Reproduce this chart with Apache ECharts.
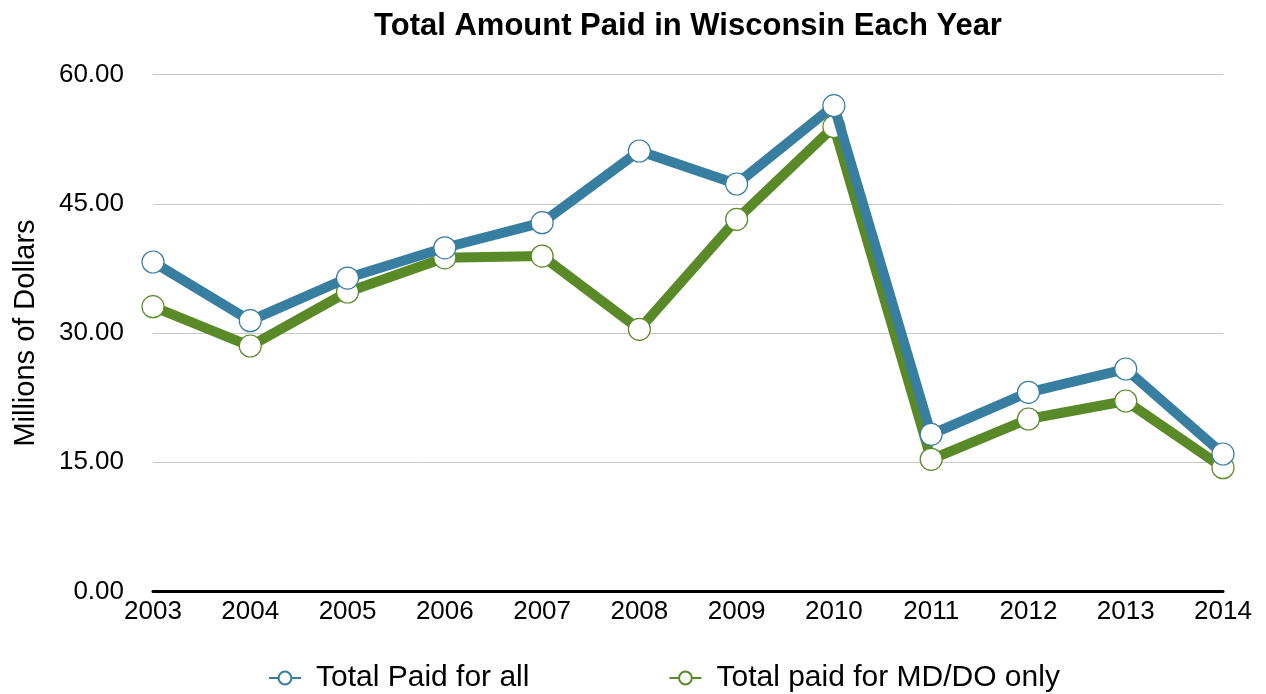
<!DOCTYPE html>
<html>
<head>
<meta charset="utf-8">
<script src="https://cdn.jsdelivr.net/npm/echarts@6/dist/echarts.min.js"></script>
<style>
  html, body { margin: 0; padding: 0; background: #fff; }
  #chart { width: 1266px; height: 694px; }
</style>
</head>
<body>
<div id="chart"></div>
<script>
// years on the x axis
var years = ['2003','2004','2005','2006','2007','2008','2009','2010','2011','2012','2013','2014'];
// millions of dollars
var paidAll  = [38.24, 31.43, 36.38, 39.89, 42.80, 51.12, 47.29, 56.38, 18.24, 23.12, 25.82, 15.96];
var paidMdDo = [33.05, 28.49, 34.76, 38.73, 38.93, 30.43, 43.19, 53.94, 15.34, 20.02, 22.11, 14.37];
var seriesNames = ['Total Paid for all', 'Total paid for MD/DO only'];
var colors = ['#377ea1', '#5a8a28'];

var font = '"Liberation Sans", Arial, sans-serif';

function lineSeries(name, data, color, z) {
	return {
		name: name,
		type: 'line',
		data: data,
		symbol: 'circle',
		symbolSize: 22,
		lineStyle: { color: color, width: 10 },
		itemStyle: { color: '#fff', borderColor: color, borderWidth: 1.2 },
		emphasis: { disabled: true },
		z: z
	};
}

var myChart = echarts.init(document.getElementById('chart'));
var option = {
	animation: false,
	backgroundColor: '#fff',
	// title centred over the plot area, not the page
	graphic: [{
		type: 'text',
		x: 688,
		y: 26,
		style: {
			text: 'Total Amount Paid in Wisconsin Each Year',
			fontFamily: font, fontSize: 31, fontWeight: 'bold', fill: '#000',
			textAlign: 'center', textVerticalAlign: 'middle'
		}
	}],
	legend: {
		data: seriesNames,
		top: 658,
		left: 263,
		itemGap: 139,
		itemWidth: 32,
		itemHeight: 16,
		textStyle: { fontFamily: font, fontSize: 30, color: '#000', padding: [0, 0, 0, 10] }
	},
	grid: { left: 153, right: 43, top: 74.5, bottom: 102.5, containLabel: false, outerBoundsMode: 'none' },
	xAxis: {
		type: 'category',
		data: years,
		boundaryGap: false,
		axisLine: { lineStyle: { color: '#000', width: 3 } },
		axisTick: { show: false },
		axisLabel: { fontFamily: font, fontSize: 26, color: '#000', margin: 7 }
	},
	yAxis: {
		type: 'value',
		min: 0,
		max: 60,
		interval: 15,
		name: 'Millions of Dollars',
		nameLocation: 'middle',
		nameGap: 113,
		nameTextStyle: { fontFamily: font, fontSize: 29, color: '#000' },
		axisLine: { show: false },
		axisTick: { show: false },
		splitLine: { lineStyle: { color: '#c8c8c8', width: 1 } },
		axisLabel: {
			fontFamily: font, fontSize: 26, color: '#000', margin: 29,
			formatter: function (v) { return v.toFixed(2); }
		}
	},
	series: [
		lineSeries(seriesNames[0], paidAll, colors[0], 3),
		lineSeries(seriesNames[1], paidMdDo, colors[1], 2)
	]
};
myChart.setOption(option);
</script>
</body>
</html>
